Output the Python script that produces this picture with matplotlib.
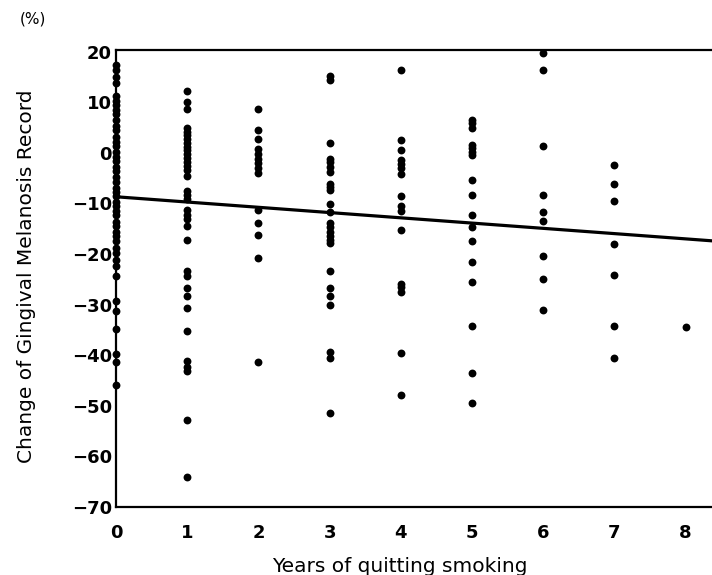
import matplotlib
matplotlib.use("Agg")
import matplotlib.pyplot as plt
import numpy as np

# Data (years since quitting -> change in record, %)
col0 = [17.3, 16.3, 14.9, 13.8, 11.2, 10.3, 9.5, 8.4, 7.6, 6.5, 5.3, 4.4, 3.2, 2.1,
        1.3, 0.2, -0.8, -1.7, -2.9, -3.6, -4.8, -5.7, -6.9, -7.8, -8.6, -9.7, -10.5,
        -11.6, -12.4, -13.7, -14.5, -15.6, -16.4, -17.5, -18.9, -19.8, -21.2, -22.3,
        -24.4, -29.3, -31.3, -34.9, -39.8, -41.4, -45.8]
col1 = [12.2, 10.1, 8.6, 4.9, 4.1, 3.5, 2.8, 2.0, 1.2, 0.5, -0.2, -1.0, -1.8, -2.6,
        -3.5, -4.6, -7.6, -8.4, -9.1, -11.4, -12.3, -13.1, -14.4, -17.2, -23.4, -24.3,
        -26.7, -28.4, -30.6, -35.2, -41.2, -42.3, -43.2, -52.9, -64.1]
col2 = [8.6, 4.5, 2.8, 0.8, -0.2, -1.2, -2.1, -3.1, -4.1, -11.4, -13.9, -16.2, -20.8, -41.3]
col3 = [15.1, 14.4, 2.0, -1.2, -1.9, -2.8, -3.9, -6.1, -6.8, -7.4, -10.2, -11.7, -13.9,
        -14.7, -15.6, -16.4, -17.2, -17.8, -23.4, -26.7, -28.4, -30.1, -39.4, -40.5, -51.4]
col4 = [16.4, 2.5, 0.5, -1.5, -2.3, -3.1, -4.3, -8.6, -10.6, -11.6, -15.2, -26.0, -26.6,
        -27.6, -39.5, -47.8]
col5 = [6.4, 5.8, 4.9, 1.6, 1.0, 0.2, -0.5, -5.3, -8.3, -12.4, -14.7, -17.4, -21.5,
        -25.6, -34.3, -43.5, -49.4]
col6 = [19.7, 16.4, 1.3, -8.3, -11.7, -13.4, -20.5, -25.0, -31.1]
col7 = [-2.5, -6.1, -9.5, -18.0, -24.1, -34.3, -40.6]
col8 = [-34.5]
columns = [col0, col1, col2, col3, col4, col5, col6, col7, col8]

# regression line
line_intercept = -8.7
line_slope = -1.04

x_ticks = [0, 1, 2, 3, 4, 5, 6, 7, 8]
y_ticks = [20, 10, 0, -10, -20, -30, -40, -50, -60, -70]

plt.rcParams['font.family'] = ['DejaVu Sans']

W, H = 712, 575
fig = plt.figure(figsize=(W / 100, H / 100), dpi=100)
left_px, bottom_px, top_px = 116, 507, 50
px_per_year = 71.2
xmax = 9.0
ax = fig.add_axes([left_px / W, 1 - bottom_px / H,
                   xmax * px_per_year / W, (bottom_px - top_px) / H])

xs = np.concatenate([[i] * len(c) for i, c in enumerate(columns)])
ys = np.concatenate([np.array(c, dtype=float) for c in columns])
ax.scatter(xs, ys, s=32, color='black', zorder=3, linewidths=0, clip_on=False)

lx = np.array([0, xmax])
ax.plot(lx, line_intercept + line_slope * lx, color='black', lw=2.3, zorder=4)

ax.set_xlim(0, xmax)
ax.set_ylim(-70, 20.3)
ax.set_xticks(x_ticks)
ax.set_yticks(y_ticks)
ax.set_xticklabels([str(t) for t in x_ticks], fontsize=13, fontweight='bold')
ax.set_yticklabels([str(t).replace('-', '\u2212') for t in y_ticks], fontsize=13,
                   fontweight='bold')
ax.tick_params(length=0)
ax.tick_params(axis='y', pad=3)
ax.tick_params(axis='x', pad=12)
for s in ax.spines.values():
    s.set_linewidth(1.6)
    s.set_color('black')

fig.text(400 / W, 1 - 566 / H, 'Years of quitting smoking', ha='center', va='center',
         fontsize=14.5)
fig.text(27 / W, 1 - 276 / H, 'Change of Gingival Melanosis Record', ha='center', va='center',
         rotation=90, fontsize=14.5)
fig.text(33 / W, 1 - 19 / H, '(%)', ha='center', va='center', fontsize=11)

fig.savefig('out.png', dpi=100)
